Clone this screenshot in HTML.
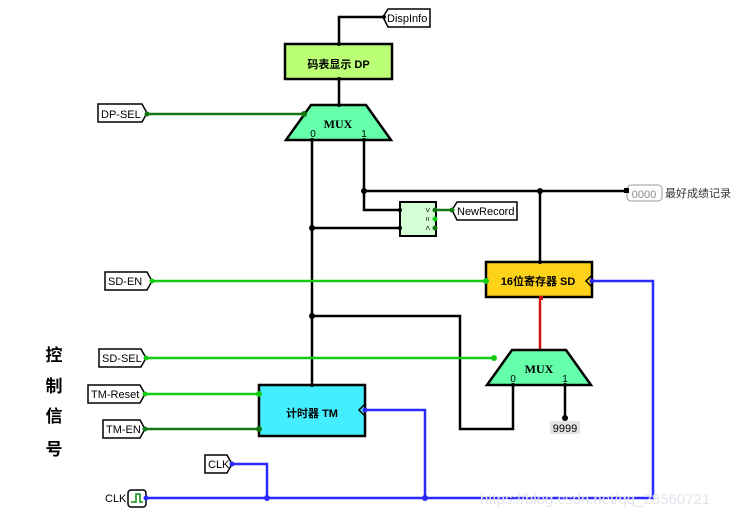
<!DOCTYPE html>
<html><head><meta charset="utf-8"><style>
html,body{margin:0;padding:0;background:#fff;}
svg{display:block;}
text{font-family:"Liberation Sans","Noto Sans CJK SC",sans-serif;}
text.serif{font-family:"Liberation Serif",serif;}
</style></head><body>
<svg width="736" height="518" viewBox="0 0 736 518" xmlns="http://www.w3.org/2000/svg">
<g fill="none" stroke-width="2.5" stroke-linejoin="miter">
<g stroke="#000">
<polyline points="339,44 339,17 383,17"/>
<line x1="339" y1="79" x2="339" y2="105"/>
<line x1="312" y1="140" x2="312" y2="385"/>
<polyline points="364,140 364,210 400,210"/>
<line x1="364" y1="191" x2="626" y2="191"/>
<line x1="312" y1="228" x2="400" y2="228"/>
<line x1="540" y1="191" x2="540" y2="262"/>
<polyline points="312,316 460,316 460,429 513,429 513,385"/>
<line x1="565" y1="385" x2="565" y2="418"/>
</g>
<line x1="540" y1="297" x2="540" y2="350" stroke="#d01010"/>
<line x1="147" y1="114" x2="305" y2="114" stroke="#117711"/>
<line x1="152" y1="281" x2="486" y2="281" stroke="#11cc11"/>
<line x1="146" y1="358" x2="494" y2="358" stroke="#11cc11"/>
<line x1="145" y1="394" x2="259" y2="394" stroke="#11cc11"/>
<line x1="145" y1="429" x2="259" y2="429" stroke="#117711"/>
<line x1="436" y1="210" x2="452" y2="210" stroke="#117711"/>
<g stroke="#2a2aff">
<polyline points="365,410 425,410 425,498"/>
<polyline points="232,464 267,464 267,498"/>
<polyline points="146,498 653,498 653,281 592,281"/>
</g>
</g>
<path d="M383,17 L388,9 H430 V27 H388 Z" fill="#fff" stroke="#000" stroke-width="1.5"/>
<text x="387" y="22" font-size="11">DispInfo</text>
<rect x="285" y="44" width="107" height="35" fill="#bbff77" stroke="#000" stroke-width="2.5"/>
<text x="338.5" y="68" font-size="11" font-weight="bold" text-anchor="middle">码表显示 DP</text>
<polygon points="311,105 366,105 391,140 286,140" fill="#66ffaa" stroke="#000" stroke-width="2.5"/>
<text class="serif" x="338" y="128" font-size="12" font-weight="bold" text-anchor="middle">MUX</text>
<text x="313" y="137" font-size="10" text-anchor="middle">0</text>
<text x="364" y="137" font-size="10" text-anchor="middle">1</text>
<path d="M98,104 H142 L147,113 L142,122 H98 Z" fill="#fff" stroke="#000" stroke-width="1.5"/>
<text x="101" y="118" font-size="11">DP-SEL</text>
<rect x="627" y="185" width="35" height="16" rx="4" fill="#fff" stroke="#999" stroke-width="1"/>
<text x="644" y="198" font-size="11" fill="#888" text-anchor="middle">0000</text>
<text x="665" y="197" font-size="11" fill="#333">最好成绩记录</text>
<rect x="624" y="188" width="5" height="5" fill="#000"/>
<rect x="400" y="202" width="36" height="34" fill="#d4ffd4" stroke="#000" stroke-width="2"/>
<text x="428" y="213" font-size="8" text-anchor="middle" transform="rotate(90 428 210)">&gt;</text>
<text x="428" y="222" font-size="8" text-anchor="middle" transform="rotate(90 428 219)">=</text>
<text x="428" y="231" font-size="8" text-anchor="middle" transform="rotate(90 428 228)">&lt;</text>
<circle cx="435" cy="210" r="2.5" fill="#117711"/>
<circle cx="435" cy="219" r="2.5" fill="#11cc11"/>
<circle cx="435" cy="228" r="2.5" fill="#117711"/>
<path d="M452,210 L457,202 H517 V220 H457 Z" fill="#fff" stroke="#000" stroke-width="1.5"/>
<text x="457" y="215" font-size="11">NewRecord</text>
<rect x="486" y="262" width="106" height="35" fill="#ffd21a" stroke="#000" stroke-width="2.5"/>
<polyline points="592,275 586,281 592,287" fill="none" stroke="#000" stroke-width="1.5"/>
<text x="538" y="285" font-size="11" font-weight="bold" text-anchor="middle">16位寄存器 SD</text>
<path d="M105,272 H147 L152,281 L147,290 H105 Z" fill="#fff" stroke="#000" stroke-width="1.5"/>
<text x="108" y="285" font-size="11">SD-EN</text>
<polygon points="512,350 566,350 591,385 487,385" fill="#66ffaa" stroke="#000" stroke-width="2.5"/>
<text class="serif" x="539" y="373" font-size="12" font-weight="bold" text-anchor="middle">MUX</text>
<text x="513" y="382" font-size="10" text-anchor="middle">0</text>
<text x="565" y="382" font-size="10" text-anchor="middle">1</text>
<rect x="550" y="421" width="30" height="13" fill="#e4e4e4"/>
<text x="565" y="432" font-size="11" text-anchor="middle">9999</text>
<path d="M99,349 H141 L146,358 L141,367 H99 Z" fill="#fff" stroke="#000" stroke-width="1.5"/>
<text x="102" y="362" font-size="11">SD-SEL</text>
<rect x="259" y="385" width="106" height="51" fill="#44eeff" stroke="#000" stroke-width="2.5"/>
<polyline points="365,404 359,410 365,416" fill="none" stroke="#000" stroke-width="1.5"/>
<text x="312" y="417" font-size="11" font-weight="bold" text-anchor="middle">计时器 TM</text>
<path d="M88,385 H140 L145,394 L140,403 H88 Z" fill="#fff" stroke="#000" stroke-width="1.5"/>
<text x="91" y="398" font-size="11">TM-Reset</text>
<path d="M103,420 H140 L145,429 L140,438 H103 Z" fill="#fff" stroke="#000" stroke-width="1.5"/>
<text x="106" y="433" font-size="11">TM-EN</text>
<path d="M205,455 H227 L232,464 L227,473 H205 Z" fill="#fff" stroke="#000" stroke-width="1.5"/>
<text x="208" y="468" font-size="11">CLK</text>
<text x="105" y="502" font-size="11">CLK</text>
<rect x="128" y="490" width="18" height="17" rx="3" fill="#fff" stroke="#000" stroke-width="1.5"/>
<polyline points="131,502 136,502 136,494 140,494 140,502 143,502" fill="none" stroke="#118811" stroke-width="1.5"/>
<g font-size="17" font-weight="bold" text-anchor="middle">
<text x="54" y="361">控</text><text x="54" y="392">制</text><text x="54" y="422">信</text><text x="54" y="455">号</text>
</g>
<g fill="#000">
<circle cx="364" cy="191" r="3"/><circle cx="540" cy="191" r="3"/>
<circle cx="312" cy="228" r="3"/><circle cx="312" cy="316" r="3"/>
<circle cx="565" cy="418" r="3"/>
<circle cx="339" cy="44" r="2"/><circle cx="339" cy="79" r="2"/><circle cx="339" cy="105" r="2"/>
<circle cx="312" cy="140" r="2"/><circle cx="364" cy="140" r="2"/>
<circle cx="400" cy="210" r="2"/><circle cx="400" cy="228" r="2"/>
<circle cx="540" cy="262" r="2"/><circle cx="312" cy="385" r="2"/>
<circle cx="513" cy="385" r="2"/><circle cx="565" cy="385" r="2"/>
<circle cx="384" cy="17" r="2"/>
</g>
<g fill="#11cc11"><circle cx="152" cy="281" r="2.5"/><circle cx="486" cy="281" r="3"/><circle cx="146" cy="358" r="2.5"/><circle cx="494" cy="358" r="3"/><circle cx="145" cy="394" r="2.5"/><circle cx="259" cy="394" r="3"/></g>
<g fill="#117711"><circle cx="147" cy="114" r="2.5"/><circle cx="304" cy="114" r="3"/><circle cx="145" cy="429" r="2.5"/><circle cx="259" cy="429" r="3"/><circle cx="452" cy="210" r="2.5"/></g>
<g fill="#2a2aff"><circle cx="267" cy="498" r="3"/><circle cx="425" cy="498" r="3"/><circle cx="232" cy="464" r="2.5"/><circle cx="146" cy="498" r="2.5"/><circle cx="365" cy="410" r="2.5"/><circle cx="592" cy="281" r="2.5"/></g>
<rect x="539" y="296" width="4" height="4" fill="#d01010"/>
<text x="480" y="504" font-size="15" fill="#e4e4ec">https://blog.csdn.net/qq_28560721</text>
</svg>
</body></html>
